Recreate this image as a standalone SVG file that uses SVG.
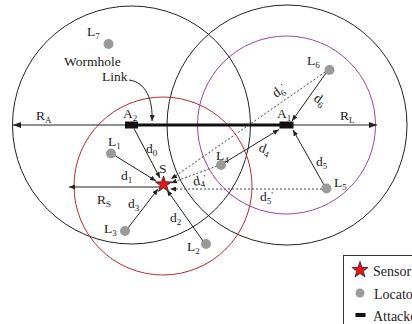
<svg xmlns="http://www.w3.org/2000/svg" width="412" height="324" viewBox="0 0 412 324">
<defs>
<style>
text{font-family:"Liberation Serif","Times New Roman",serif;font-size:13.5px;fill:#222}
.sub{font-size:9px}
.lg{font-size:14px}
.rng{fill:none;stroke:#222;stroke-width:1}
.red{fill:none;stroke:#c0282b;stroke-width:1}
.pur{fill:none;stroke:#a040a8;stroke-width:1}
.ln{stroke:#222;stroke-width:1;fill:none}
.dot{stroke:#444;stroke-width:1;stroke-dasharray:2 2;fill:none}
.loc{fill:#9a9a9a}
</style>
<marker id="ar" viewBox="0 0 8 6" refX="8" refY="3" markerWidth="8" markerHeight="6" markerUnits="userSpaceOnUse" orient="auto">
<path d="M0,0 L8,3 L0,6 z" fill="#222"/>
</marker>
<marker id="ars" viewBox="0 0 6 5" refX="6" refY="2.5" markerWidth="6" markerHeight="5" markerUnits="userSpaceOnUse" orient="auto">
<path d="M0,0 L6,2.5 L0,5 z" fill="#222"/>
</marker>
<polygon id="star" points="0,-8.5 2.0,-2.7 8.1,-2.6 3.2,1.0 5.0,6.9 0,3.4 -5.0,6.9 -3.2,1.0 -8.1,-2.6 -2.0,-2.7" fill="#e8141b" stroke="#222" stroke-width="0.8"/>
</defs>

<g id="ranges">
<circle class="rng" cx="131.5" cy="125" r="119"/>
<circle class="rng" cx="287" cy="125" r="120"/>
<circle class="pur" cx="286.5" cy="125" r="89"/>
<circle class="red" cx="163" cy="186" r="89"/>
</g>

<g id="connectors">
<line class="ln" x1="125" y1="125" x2="13" y2="125" marker-end="url(#ar)"/>
<line class="ln" x1="293" y1="125" x2="377" y2="125" marker-end="url(#ar)"/>
<line x1="138" y1="125" x2="280" y2="125" stroke="#111" stroke-width="3"/>
<path class="ln" d="M129,80 C146,82 153,100 152,121" marker-end="url(#ars)"/>
<line class="ln" x1="134" y1="128.5" x2="160" y2="178" marker-end="url(#ars)"/>
<line class="ln" x1="114" y1="155" x2="156" y2="181" marker-end="url(#ars)"/>
<line class="ln" x1="128" y1="228" x2="158" y2="189" marker-end="url(#ars)"/>
<line class="ln" x1="203" y1="241" x2="167" y2="190" marker-end="url(#ars)"/>
<line class="ln" x1="224" y1="163" x2="279" y2="129.5" marker-end="url(#ars)"/>
<line class="ln" x1="326" y1="73" x2="292" y2="121" marker-end="url(#ars)"/>
<line class="ln" x1="324" y1="185" x2="293" y2="130" marker-end="url(#ars)"/>
<line class="dot" x1="322" y1="189" x2="170" y2="189" marker-end="url(#ars)"/>
<line class="dot" x1="217" y1="166" x2="171" y2="183" marker-end="url(#ars)"/>
<line class="dot" x1="325" y1="72" x2="171" y2="179" marker-end="url(#ars)"/>
<line class="ln" x1="163" y1="187" x2="69" y2="187" marker-end="url(#ars)"/>
</g>

<g id="A2"><rect x="125" y="121.5" width="13" height="7" fill="#111"/><text x="123" y="118">A<tspan class="sub" dy="3">2</tspan></text></g>
<g id="A1"><rect x="279.5" y="121.5" width="14" height="7" fill="#111"/><text x="277" y="118">A<tspan class="sub" dy="3">1</tspan></text></g>
<g id="S"><use href="#star" x="163.5" y="184.5"/><text x="159" y="173">S</text></g>
<g id="L7"><circle class="loc" cx="108.5" cy="44" r="5"/><text x="87" y="36">L<tspan class="sub" dy="3">7</tspan></text></g>
<g id="L1"><circle class="loc" cx="111" cy="153.5" r="5"/><text x="108" y="146">L<tspan class="sub" dy="3">1</tspan></text></g>
<g id="L3"><circle class="loc" cx="125" cy="231" r="5"/><text x="104" y="233">L<tspan class="sub" dy="3">3</tspan></text></g>
<g id="L2"><circle class="loc" cx="206" cy="244" r="5"/><text x="187" y="251">L<tspan class="sub" dy="3">2</tspan></text></g>
<g id="L4"><circle class="loc" cx="221" cy="165" r="5"/><text x="216" y="160">L<tspan class="sub" dy="3">4</tspan></text></g>
<g id="L6"><circle class="loc" cx="329.5" cy="70" r="5"/><text x="307" y="65">L<tspan class="sub" dy="3">6</tspan></text></g>
<g id="L5"><circle class="loc" cx="326.5" cy="188.5" r="5"/><text x="334" y="187">L<tspan class="sub" dy="3">5</tspan></text></g>

<g id="labels">
<text x="36" y="120">R<tspan class="sub" dy="3">A</tspan></text>
<text x="340" y="120">R<tspan class="sub" dy="3">L</tspan></text>
<text x="97" y="204">R<tspan class="sub" dy="3">S</tspan></text>
<text x="64" y="66">Wormhole</text>
<text x="102" y="81">Link</text>
<text x="146" y="153">d<tspan class="sub" dy="3">0</tspan></text>
<text x="121" y="180">d<tspan class="sub" dy="3">1</tspan></text>
<text x="128" y="208">d<tspan class="sub" dy="3">3</tspan></text>
<text x="170" y="222">d<tspan class="sub" dy="3">2</tspan></text>
<text x="0" y="0" transform="translate(258,151) rotate(20)">d<tspan class="sub" dy="3">4</tspan></text>
<text x="0" y="0" transform="translate(194,186) rotate(-12)">d<tspan class="sub" dy="3">4</tspan><tspan class="sub" dy="-6">'</tspan></text>
<text x="316" y="166">d<tspan class="sub" dy="3">5</tspan></text>
<text x="260" y="201">d<tspan class="sub" dy="3">5</tspan><tspan class="sub" dy="-6">'</tspan></text>
<text x="0" y="0" transform="translate(313,100) rotate(35)">d<tspan class="sub" dy="3">6</tspan></text>
<text x="0" y="0" transform="translate(276,98) rotate(-34)">d<tspan class="sub" dy="3">6</tspan><tspan class="sub" dy="-6">'</tspan></text>
</g>

<g id="legend">
<rect x="343.5" y="255.5" width="80" height="80" fill="#fff" stroke="#333" stroke-width="1"/>
<use href="#star" x="360" y="270"/>
<text class="lg" x="373" y="276">Sensor</text>
<circle class="loc" cx="360" cy="293" r="4.5"/>
<text class="lg" x="374" y="299">Locator</text>
<rect x="355.5" y="313" width="10" height="4" fill="#111"/>
<text class="lg" x="373" y="321">Attacker</text>
</g>
</svg>
